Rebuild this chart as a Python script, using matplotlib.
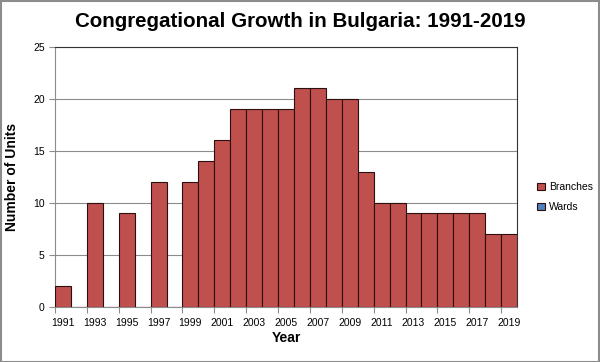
import matplotlib
matplotlib.use("Agg")
import matplotlib.pyplot as plt
from matplotlib.patches import Patch, Rectangle
import numpy as np

plt.rcParams['font.family'] = ['Liberation Sans', 'DejaVu Sans']

# Data
years = list(range(1991, 2020))
branches = [2, 0, 10, 0, 9, 0, 12, 0, 12, 14, 16, 19, 19, 19, 19, 21, 21, 20, 20, 13,
            10, 10, 9, 9, 9, 9, 9, 7, 7]
wards = [0] * len(years)

red = '#C0504D'
blue = '#4F81BD'

fig = plt.figure(figsize=(6, 3.62), dpi=100)
ax = fig.add_axes([0.0917, 0.1528, 0.77, 0.718])

x = np.arange(len(years))
ax.bar(x, branches, width=1.0, color=red, edgecolor='#2b1010', linewidth=0.8, zorder=3)
ax.bar(x, wards, width=1.0, bottom=branches, color=blue, edgecolor='#2b1010', linewidth=0.0, zorder=3)

ax.set_xlim(-0.5, len(years) - 0.5)
ax.set_ylim(0, 25)
ax.set_yticks([0, 5, 10, 15, 20, 25])
ax.yaxis.grid(True, color='#8c8c8c', linewidth=0.8, zorder=0)

# labels every other year, centred under the bar; ticks on left bar edge
ax.set_xticks(x[::2] - 0.5)
ax.set_xticklabels([])
ax.set_xticks(x[::2], minor=True)
ax.set_xticklabels([str(y) for y in years[::2]], minor=True)
ax.tick_params(axis='x', which='minor', length=0, labelsize=7.5, pad=8)
ax.tick_params(axis='x', which='major', length=4, color='#8c8c8c')
ax.tick_params(axis='y', length=4, color='#8c8c8c', labelsize=7.5)

for s in ['top', 'right']:
    ax.spines[s].set_color('#333333')
for s in ['left', 'bottom']:
    ax.spines[s].set_color('#8c8c8c')

ax.set_xlabel('Year', fontsize=10, fontweight='bold', labelpad=2)
ax.set_ylabel('Number of Units', fontsize=10, fontweight='bold', labelpad=10)
fig.text(0.5, 0.94, 'Congregational Growth in Bulgaria: 1991-2019', ha='center', va='center',
         fontsize=14.8, fontweight='bold')

handles = [Patch(facecolor=red, edgecolor='#2b1010', linewidth=0.8),
           Patch(facecolor=blue, edgecolor='#2b1010', linewidth=0.8)]
fig.legend(handles, ['Branches', 'Wards'], loc='center left', bbox_to_anchor=(0.88, 0.455),
           frameon=False, fontsize=7.5, handlelength=0.7, handleheight=0.7,
           handletextpad=0.4, labelspacing=1.0)

fig.patches.append(Rectangle((0.001, 0.001), 0.997, 0.996, transform=fig.transFigure,
                             fill=False, edgecolor='#8c8c8c', linewidth=1.5))

fig.savefig('out.png', dpi=100)
